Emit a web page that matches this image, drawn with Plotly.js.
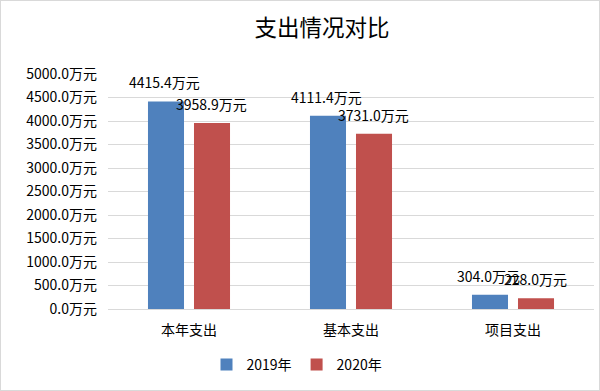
<!DOCTYPE html>
<html>
<head>
<meta charset="utf-8">
<script src="https://cdn.plot.ly/plotly-3.0.1.min.js"></script>
<style>
html,body{margin:0;padding:0;background:#fff;}
#chart{width:600px;height:391px;}
</style>
</head>
<body>
<div id="chart"></div>
<div style="position:absolute;left:0;top:0;width:598px;height:389px;border:1px solid #d9d9d9;pointer-events:none;"></div>
<script>
const categories = ['本年支出', '基本支出', '项目支出'];
const seriesNames = ['2019年', '2020年'];
const values2019 = [4415.4, 4111.4, 304.0];
const values2020 = [3958.9, 3731.0, 228.0];
const yTicks = [0, 500, 1000, 1500, 2000, 2500, 3000, 3500, 4000, 4500, 5000];

const FONT = '"Noto Sans CJK SC", "Microsoft YaHei", sans-serif';
const colors = ['#4F81BD', '#C0504D'];
const seriesValues = [values2019, values2020];

const traces = seriesNames.map((n, i) => ({
  type: 'bar',
  name: n,
  x: categories,
  y: seriesValues[i],
  marker: {color: colors[i]},
  hoverinfo: 'none'
}));

const annotations = [];
seriesValues.forEach((vals, i) => {
  vals.forEach((v, j) => {
    annotations.push({
      x: categories[j], y: v, xref: 'x', yref: 'y',
      text: v.toFixed(1) + '万元',
      showarrow: false,
      xanchor: 'center', yanchor: 'bottom',
      xshift: (i === 0 ? -25 : 22), yshift: 7,
      font: {family: FONT, size: 14, color: '#000'}
    });
  });
});

const layout = {
  width: 600, height: 391,
  margin: {l: 108, r: 6, t: 74, b: 82},
  paper_bgcolor: '#fff', plot_bgcolor: '#fff',
  font: {family: FONT, size: 14, color: '#000'},
  title: {text: '支出情况对比', font: {family: FONT, size: 22.5, color: '#000'},
          x: 322/600, xref: 'container', xanchor: 'center',
          y: 1 - 28/391, yref: 'container', yanchor: 'middle'},
  barmode: 'group',
  bargap: 0.432,
  bargroupgap: 0.217,
  showlegend: true,
  legend: {orientation: 'h', x: 0.495, xref: 'container', xanchor: 'center',
           y: 26/391, yref: 'container', yanchor: 'middle',
           font: {family: FONT, size: 14, color: '#000'}, traceorder: 'normal',
           itemwidth: 30},
  xaxis: {type: 'category', showgrid: false, showline: true, linecolor: '#d9d9d9', linewidth: 1,
          ticks: '', ticklabelstandoff: 8, tickfont: {family: FONT, size: 14, color: '#000'},
          fixedrange: true},
  yaxis: {range: [0, 5000], tickvals: yTicks, ticktext: yTicks.map(v => v.toFixed(1) + '万元'),
          showgrid: true, gridcolor: '#d9d9d9', gridwidth: 1, zeroline: false,
          showline: false, ticks: '', ticklabelstandoff: 10,
          tickfont: {family: FONT, size: 14, color: '#000'}, fixedrange: true},
  annotations: annotations
};

Plotly.newPlot('chart', traces, layout, {displayModeBar: false, staticPlot: true});
</script>
</body>
</html>
